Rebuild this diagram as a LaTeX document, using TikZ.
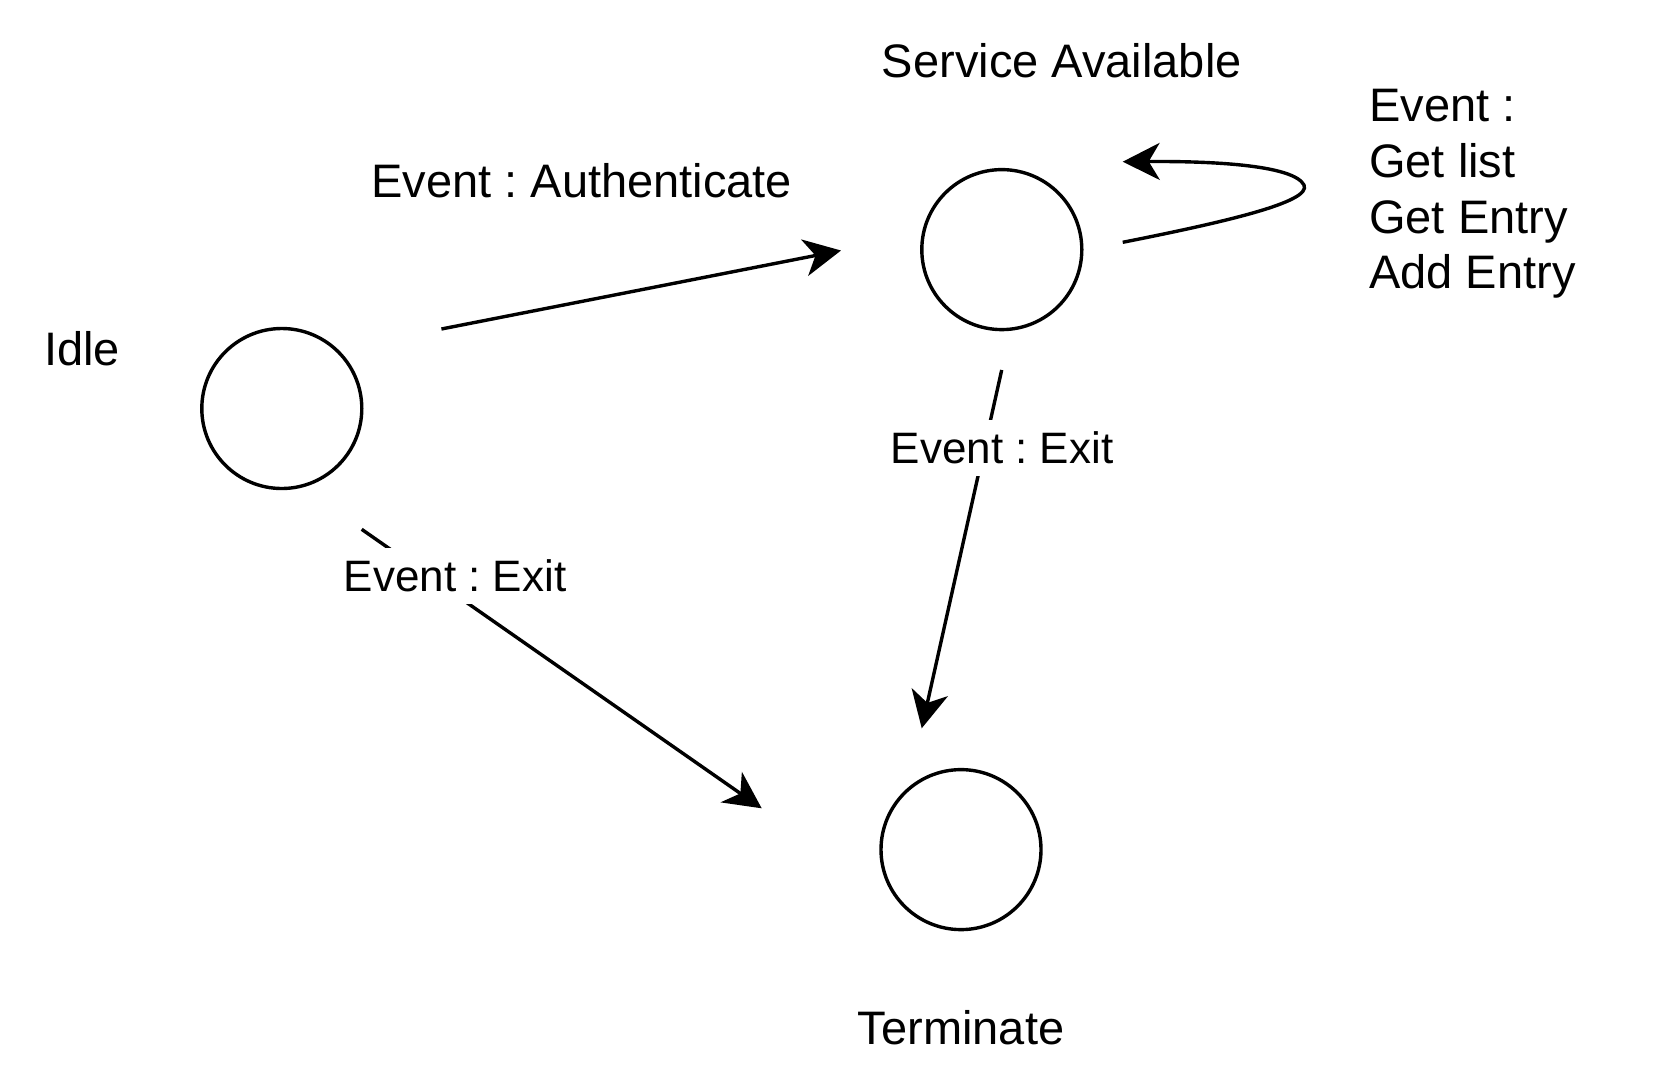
\documentclass[tikz,border=0pt]{standalone}
\usepackage{fontspec}
\setmainfont{Liberation Sans}
\usetikzlibrary{arrows.meta}
\frenchspacing
\begin{document}
\begin{tikzpicture}[x=1pt,y=-1pt,
  state/.style={circle,draw,line width=3.4pt,minimum size=160pt,inner sep=0pt},
  lbl/.style={inner sep=0pt,font=\frenchspacing\fontsize{47}{55.7}\selectfont},
  exitlbl/.style={fill=white,inner sep=0pt,inner xsep=4pt,text height=43pt,text depth=13pt,font=\frenchspacing\fontsize{44}{52}\selectfont},
  conn/.style={line width=3.4pt,-{Stealth[length=37pt,width=37pt,inset=11pt]}}]
\useasboundingbox (0,0) rectangle (1680,1088);
\fill[white] (0,0) rectangle (1680,1088);
% states
\node[state] (idle) at (281.8,408.5) {};
\node[state] (service) at (1001.8,249.6) {};
\node[state] (term) at (961,849.6) {};
% state names
\node[lbl,anchor=base] (tidle) at (82,365) {Idle};
\node[lbl,anchor=base] (tservice) at (1061.8,77) {Service Available};
\node[lbl,anchor=base] (tterm) at (961,1044.5) {Terminate};
% connector end points
\coordinate (a1s) at (441.4,329);
\coordinate (a1e) at (841,250.5);
\coordinate (ls) at (1122.7,242.3);
\coordinate (le) at (1122.7,161.7);
\coordinate (e1s) at (1001.7,370);
\coordinate (e1e) at (921.7,728.3);
\coordinate (e2s) at (361.7,529.3);
\coordinate (e2e) at (761.7,808.3);
% connectors
\draw[conn] (a1s) -- (a1e);
\node[lbl,anchor=base] (lauth) at (581.8,197) {Event : Authenticate};
\draw[conn] (ls) .. controls (1225,222) and (1312,202) .. (1304,185)
  .. controls (1294,166) and (1220,161) .. (le);
\node[lbl,anchor=north west,align=left] (lloop) at (1369,89.3) {Event :\\Get list\\Get Entry\\Add Entry};
\draw[conn] (e1s) -- (e1e);
\node[exitlbl,anchor=base] (lexit1) at (1002,463.3) {Event : Exit};
\draw[conn] (e2s) -- (e2e);
\node[exitlbl,anchor=base] (lexit2) at (455,591) {Event : Exit};
\end{tikzpicture}
\end{document}
